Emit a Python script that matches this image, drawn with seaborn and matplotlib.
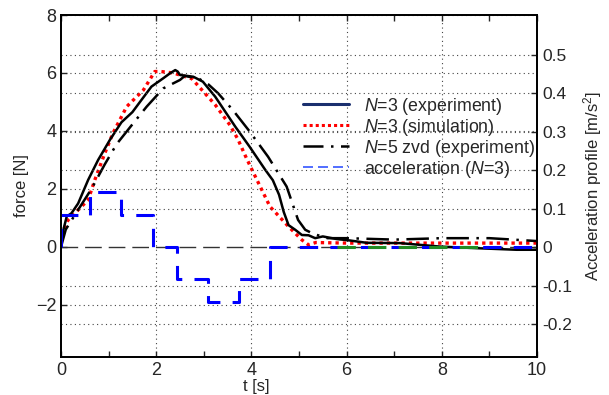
import matplotlib
matplotlib.use("Agg")
import matplotlib.pyplot as plt
from matplotlib.lines import Line2D
from matplotlib.ticker import MultipleLocator
import seaborn as sns

# N=3 experiment (black solid), force [N]
t_exp3 = [0, 0.05, 0.12, 0.22, 0.36, 0.57, 0.78, 1.03, 1.27, 1.5, 1.69, 1.9, 2.15, 2.3, 2.4,
          2.45, 2.5, 2.78, 2.98, 3.24, 3.66, 3.96, 4.29, 4.45, 4.58, 4.68, 4.78, 4.92, 5.06,
          5.2, 5.34, 5.5, 5.79, 6.07, 6.42, 7.12, 7.96, 8.8, 9.57, 10]
f_exp3 = [0, 0.59, 1.05, 1.16, 1.5, 2.31, 3.0, 3.7, 4.3, 4.65, 5.07, 5.53, 5.82, 6.0, 6.1,
          6.05, 5.93, 5.87, 5.7, 5.18, 4.15, 3.46, 2.66, 2.3, 1.8, 1.2, 0.75, 0.59, 0.41,
          0.4, 0.3, 0.36, 0.27, 0.22, 0.14, 0.13, 0.01, -0.05, -0.1, -0.1]

# N=3 simulation (red dotted)
t_sim3 = [0, 0.15, 0.57, 0.71, 0.92, 1.09, 1.38, 1.73, 1.97, 2.1, 2.36, 2.75, 3.24, 3.55,
          3.72, 3.87, 4.0, 4.39, 4.78, 5.06, 5.2, 5.35, 6.0, 8.0, 10.0]
f_sim3 = [0.41, 0.93, 1.62, 2.31, 3.23, 3.92, 4.84, 5.41, 6.05, 6.05, 6.0, 5.8, 4.9, 4.2,
          3.7, 3.15, 2.7, 1.39, 0.7, 0.24, 0.07, 0.15, 0.13, 0.13, 0.13]

# N=5 zvd experiment (black dash-dot)
t_zvd5 = [0, 0.1, 0.29, 0.64, 0.92, 1.17, 1.52, 1.8, 2.15, 2.5, 2.6, 2.9, 3.1, 3.3, 3.61,
          3.94, 4.35, 4.74, 4.98, 5.13, 5.3, 5.6, 6, 7, 8, 9, 10]
f_zvd5 = [0, 0.6, 1.1, 2.0, 2.85, 3.55, 4.27, 4.84, 5.47, 5.76, 5.9, 5.8, 5.6, 5.3, 4.72,
          4.03, 3.11, 2.08, 0.93, 0.59, 0.45, 0.3, 0.3, 0.25, 0.3, 0.3, 0.2]

# acceleration profile N=3 (blue dashed, right axis) [m/s^2]
t_acc = [0, 0, 0.61, 1.25, 1.93, 2.44, 3.09, 3.74, 4.39, 10]
a_acc = [0, 0.083, 0.144, 0.083, 0, -0.084, -0.142, -0.084, 0, 0]

# green dashed segment on zero
t_green = [5.8, 8.8]
a_green = [0, 0]

legend_labels = ["$N$=3 (experiment)", "$N$=3 (simulation)",
                 "$N$=5 zvd (experiment)", "acceleration ($N$=3)"]

sns.set_style("ticks")
plt.rcParams["font.family"] = ["Liberation Sans", "DejaVu Sans"]
plt.rcParams["mathtext.fontset"] = "custom"
plt.rcParams["mathtext.rm"] = "Liberation Sans"
plt.rcParams["mathtext.it"] = "Liberation Sans:italic"

fig, ax = plt.subplots(figsize=(6.09, 3.95), dpi=100)
fig.subplots_adjust(left=0.1002, right=0.8818, top=0.962, bottom=0.0962)
ax2 = ax.twinx()

grid_kw = dict(color="#444444", linestyle=(0, (1, 3)), linewidth=0.8)
for xv in [2, 4, 6, 8]:
    ax.axvline(xv, zorder=0, **grid_kw)
for yv in [8, 6, 4, 2, -2]:
    ax.axhline(yv, zorder=0, **grid_kw)
for yv in [0.5, 0.4, 0.3, 0.2, 0.1, -0.1, -0.2]:
    ax2.axhline(yv, zorder=0, **grid_kw)
ax.axhline(0, color="#333333", linestyle=(0, (12, 5)), linewidth=1.0, zorder=1)

sns.lineplot(x=t_acc, y=a_acc, ax=ax2, color="#0000ff", linewidth=2.2,
             linestyle=(0, (6, 4)), drawstyle="steps-post", estimator=None, sort=False)
sns.lineplot(x=t_green, y=a_green, ax=ax2, color="#228b22", linewidth=2.2,
             linestyle=(0, (6, 4)), estimator=None, sort=False)
sns.lineplot(x=t_sim3, y=f_sim3, ax=ax, color="#ff0000", linewidth=2.4,
             linestyle=(0, (1, 1.2)), estimator=None, sort=False, zorder=3)
sns.lineplot(x=t_zvd5, y=f_zvd5, ax=ax, color="black", linewidth=1.8,
             linestyle=(0, (9, 3, 1, 3)), estimator=None, sort=False, zorder=3)
sns.lineplot(x=t_exp3, y=f_exp3, ax=ax, color="black", linewidth=1.8,
             estimator=None, sort=False, zorder=4)

ax.set_xlim(0, 10)
ax.set_ylim(-3.8, 8.0)
ax2.set_ylim(-0.286, 0.604)
ax.xaxis.set_major_locator(MultipleLocator(2))
ax.xaxis.set_minor_locator(MultipleLocator(1))
ax.set_yticks([-2, 0, 2, 4, 6, 8])
ax2.set_yticks([-0.2, -0.1, 0, 0.1, 0.2, 0.3, 0.4, 0.5])
ax2.set_yticklabels(["-0.2", "-0.1", "0", "0.1", "0.2", "0.3", "0.4", "0.5"])

ax.tick_params(axis="both", which="both", direction="in", top=True, labelsize=13,
               length=4, width=1)
ax.tick_params(axis="y", right=False)
ax2.tick_params(axis="y", direction="in", labelsize=12.5, length=4, width=1)
for a in (ax, ax2):
    for sp in a.spines.values():
        sp.set_linewidth(1.3)
        sp.set_color("black")

ax.set_xlabel("t [s]", fontsize=12, labelpad=1)
ax.xaxis.set_label_coords(0.41, -0.065)
ax.set_ylabel("force [N]", fontsize=12, labelpad=5)
ax2.set_ylabel("Acceleration profile [m/s$^2$]", fontsize=12, labelpad=7)

handles = [
    Line2D([], [], color="#1a2f6e", linewidth=2.2),
    Line2D([], [], color="#ff0000", linewidth=2.2, linestyle=(0, (1, 1))),
    Line2D([], [], color="black", linewidth=1.8, linestyle=(0, (8, 3, 1, 3))),
    Line2D([], [], color="#3355ff", linewidth=1.2, linestyle=(0, (6, 3))),
]
ax.legend(handles, legend_labels, loc="upper left", bbox_to_anchor=(0.49, 0.79),
          frameon=False, fontsize=12.8, handlelength=2.6, handletextpad=0.8,
          labelspacing=0.0, borderpad=0)

fig.savefig("out.png", dpi=100)
